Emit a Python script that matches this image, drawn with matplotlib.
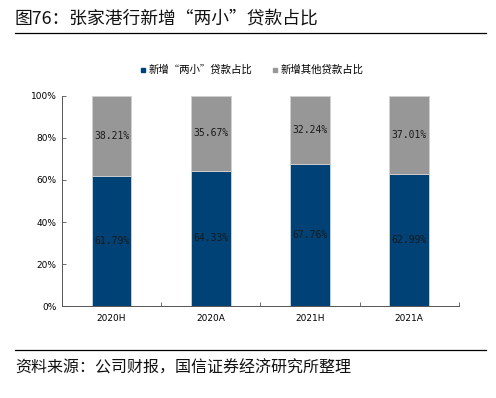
import matplotlib
matplotlib.use("Agg")
import matplotlib.pyplot as plt
import numpy as np
from matplotlib.lines import Line2D

plt.rcParams['font.family'] = ['Noto Sans CJK SC', 'DejaVu Sans']

categories = ["2020H", "2020A", "2021H", "2021A"]
small_share = [61.79, 64.33, 67.76, 62.99]
other_share = [38.21, 35.67, 32.24, 37.01]
series_names = ["新增“两小”贷款占比", "新增其他贷款占比"]
title = "图76：张家港行新增“两小”贷款占比"
source = "资料来源：公司财报，国信证券经济研究所整理"

blue = "#004176"
gray = "#979797"

fig = plt.figure(figsize=(4.96, 3.98), dpi=100)
ax = fig.add_axes([0.125, 0.231, 0.8, 0.528])

x = np.arange(len(categories))
b1 = ax.bar(x, small_share, width=0.4, color=blue, edgecolor="#c9d6e3", linewidth=0.6, label=series_names[0])
b2 = ax.bar(x, other_share, width=0.4, bottom=small_share, color=gray, edgecolor="#d0d0d0", linewidth=0.6, label=series_names[1])

for xi, s, o in zip(x, small_share, other_share):
    ax.text(xi, s / 2, f"{s:.2f}%", ha="center", va="center", fontsize=7,
            color="#1a1a1a", family="DejaVu Sans Mono")
    ax.text(xi, s + o / 2, f"{o:.2f}%", ha="center", va="center", fontsize=7,
            color="#1a1a1a", family="DejaVu Sans Mono")

ax.set_xlim(-0.5, len(categories) - 0.5)
ax.set_ylim(0, 100)
ax.set_yticks(np.arange(0, 101, 20))
ax.set_yticklabels([f"{v}%" for v in range(0, 101, 20)], fontsize=6.5, family="DejaVu Sans")
ax.set_xticks(x)
ax.set_xticklabels(categories, fontsize=6.5, family="DejaVu Sans")
ax.tick_params(axis="x", which="major", length=0, pad=6)
ax.set_xticks(np.arange(-0.5, len(categories)), minor=True)
ax.tick_params(axis="x", which="minor", direction="in", length=3, width=0.6, color="#555555")
ax.tick_params(axis="y", direction="in", length=3, width=0.6, color="#555555", pad=4)

for sp in ["top", "right"]:
    ax.spines[sp].set_visible(False)
for sp in ["left", "bottom"]:
    ax.spines[sp].set_color("#555555")
    ax.spines[sp].set_linewidth(0.7)

handles = [Line2D([], [], marker="s", linestyle="none", color=blue, markersize=3.5),
           Line2D([], [], marker="s", linestyle="none", color=gray, markersize=3.5)]
fig.legend(handles, series_names, loc="center", bbox_to_anchor=(251 / 496, 1 - 70 / 398),
           ncol=2, frameon=False, fontsize=7.5, handletextpad=0.1, columnspacing=1.8,
           handlelength=0.8)

fig.text(15 / 496, 1 - 18 / 398, title, ha="left", va="center", fontsize=12.8, color="#111111")
fig.add_artist(Line2D([15 / 496, 486 / 496], [1 - 33 / 398, 1 - 33 / 398], color="black", linewidth=0.9))
fig.add_artist(Line2D([15 / 496, 486 / 496], [1 - 350 / 398, 1 - 350 / 398], color="black", linewidth=0.9))
fig.text(15 / 496, 1 - 368 / 398, source, ha="left", va="center", fontsize=11.5, color="#111111")

fig.savefig("out.png", dpi=100)
